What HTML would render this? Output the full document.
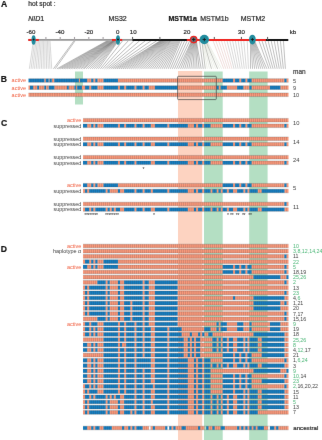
<!DOCTYPE html>
<html lang="en"><head><meta charset="utf-8"><title>Haplotype figure</title>
<style>
html,body{margin:0;padding:0;background:#fff;}
body{width:322px;height:440px;overflow:hidden;font-family:"Liberation Sans",sans-serif;}
svg{display:block;}
</style></head><body>
<svg width="322" height="440" viewBox="0 0 322 440" font-family="'Liberation Sans', sans-serif">
<defs><filter id="bl" color-interpolation-filters="sRGB" x="0" y="0" width="322" height="440" filterUnits="userSpaceOnUse"><feConvolveMatrix order="3" kernelMatrix="0 1 0 1 18 1 0 1 0" edgeMode="duplicate" preserveAlpha="true"/></filter></defs>
<g filter="url(#bl)">
<rect width="322" height="440" fill="#fff"/>
<style>text{stroke-width:.2}.tg{fill:#48b574}.tk{fill:#404040}.o{fill:#f9987a}.b{fill:#157dc0}.s{stroke:#3c3c40;stroke-opacity:0.3;stroke-width:3.7;fill:none}.e{stroke:#3c3c40;stroke-opacity:0.26;stroke-width:0.8;fill:none}</style>
<rect x="75" y="71.5" width="8" height="33" fill="#b4dfc3"/>
<rect x="178" y="71" width="24.2" height="369" fill="#fdd3c1"/>
<rect x="204" y="71.5" width="18.7" height="368.5" fill="#b4dfc3"/>
<rect x="249.2" y="71.5" width="18.4" height="368.5" fill="#b4dfc3"/>
<text x="0.9" y="7" font-size="8.6" fill="#111" stroke="#111" font-weight="bold" stroke-width=".55">A</text>
<text x="28.2" y="5.9" font-size="6.7" fill="#2a2a2a" stroke="#2a2a2a">hot spot :</text>
<text x="28.3" y="20.5" font-size="7.0" fill="#2a2a2a" stroke="#2a2a2a"><tspan font-style="italic">NID</tspan>1</text>
<text x="108.4" y="20.5" font-size="7.0" fill="#2a2a2a" stroke="#2a2a2a">MS32</text>
<text x="168.4" y="20.5" font-size="7.0" fill="#111" stroke="#111" font-weight="bold" stroke-width=".3">MSTM1a</text>
<text x="200.2" y="20.5" font-size="7.0" fill="#2a2a2a" stroke="#2a2a2a">MSTM1b</text>
<text x="240.7" y="20.5" font-size="7.0" fill="#2a2a2a" stroke="#2a2a2a">MSTM2</text>
<text x="31" y="34.3" font-size="6.1" fill="#2a2a2a" stroke="#2a2a2a" text-anchor="middle">-60</text>
<text x="60" y="34.3" font-size="6.1" fill="#2a2a2a" stroke="#2a2a2a" text-anchor="middle">-40</text>
<text x="88.8" y="34.3" font-size="6.1" fill="#2a2a2a" stroke="#2a2a2a" text-anchor="middle">-20</text>
<text x="117.6" y="34.3" font-size="6.1" fill="#2a2a2a" stroke="#2a2a2a" text-anchor="middle">0</text>
<text x="133.2" y="34.3" font-size="6.1" fill="#2a2a2a" stroke="#2a2a2a" text-anchor="middle">10</text>
<text x="187" y="34.3" font-size="6.1" fill="#2a2a2a" stroke="#2a2a2a" text-anchor="middle">20</text>
<text x="241.4" y="34.3" font-size="6.1" fill="#2a2a2a" stroke="#2a2a2a" text-anchor="middle">30</text>
<text x="289.8" y="34.3" font-size="6.1" fill="#2a2a2a" stroke="#2a2a2a">kb</text>
<path d="M33.44 40.8L29.36 68.8M34.71 40.8L31.08 68.8M35.98 40.8L32.8 68.8M37.26 40.8L34.52 68.8M38.53 40.8L36.24 68.8M39.8 40.8L37.96 68.8M41.08 40.8L39.68 68.8M42.35 40.8L41.4 68.8M43.63 40.8L43.12 68.8M44.9 40.8L44.84 68.8M46.17 40.8L46.56 68.8M47.45 40.8L48.28 68.8M48.72 40.8L50 68.8M49.99 40.8L51.72 68.8" stroke="#888" stroke-opacity="0.5" stroke-width="0.65" fill="none"/>
<path d="M73.91 40.8L53.44 68.8M75.09 40.8L55.16 68.8M107.13 40.8L56.88 68.8M107.9 40.8L58.6 68.8M108.67 40.8L60.32 68.8M109.44 40.8L62.04 68.8M110.21 40.8L63.76 68.8M110.98 40.8L65.48 68.8M111.75 40.8L67.2 68.8M112.52 40.8L68.92 68.8M113.09 40.8L70.64 68.8M113.35 40.8L72.36 68.8M113.6 40.8L74.08 68.8M113.86 40.8L75.8 68.8M114.11 40.8L77.52 68.8M114.37 40.8L79.24 68.8M114.62 40.8L80.96 68.8M114.88 40.8L82.68 68.8M115.22 40.8L84.03 68.8M115.67 40.8L86.08 68.8M116.12 40.8L88.14 68.8M116.57 40.8L90.19 68.8M117.02 40.8L92.25 68.8M117.47 40.8L94.3 68.8M117.92 40.8L96.36 68.8M118.37 40.8L98.41 68.8" stroke="#777" stroke-opacity="0.75" stroke-width="0.65" fill="none"/>
<path d="M122.56 40.8L100.47 68.8M128.25 40.8L102.52 68.8M133.93 40.8L104.58 68.8M139.62 40.8L106.63 68.8M145.3 40.8L108.69 68.8M150.99 40.8L110.74 68.8M156.67 40.8L112.8 68.8M160.27 40.8L114.85 68.8M160.93 40.8L116.91 68.8M161.59 40.8L118.96 68.8M162.24 40.8L121.02 68.8M162.9 40.8L123.07 68.8M163.55 40.8L125.13 68.8M164.21 40.8L127.18 68.8M164.87 40.8L129.24 68.8M165.52 40.8L131.29 68.8M166.18 40.8L133.35 68.8M166.84 40.8L135.4 68.8M167.49 40.8L137.46 68.8M168.15 40.8L139.51 68.8M168.81 40.8L141.57 68.8M169.46 40.8L143.62 68.8M170.12 40.8L145.68 68.8M170.78 40.8L147.73 68.8M171.43 40.8L149.79 68.8M172.37 40.8L151.84 68.8M173.35 40.8L153.9 68.8M174.32 40.8L155.95 68.8M175.29 40.8L158.01 68.8M176.27 40.8L160.06 68.8M177.24 40.8L162.12 68.8M178.21 40.8L164.17 68.8M179.19 40.8L166.23 68.8M180.16 40.8L168.28 68.8M182.13 40.8L170.34 68.8M184.65 40.8L172.39 68.8M187.16 40.8L174.45 68.8M189.67 40.8L176.5 68.8M191.62 40.8L178.56 68.8M192.04 40.8L180.61 68.8M192.47 40.8L182.67 68.8M192.9 40.8L184.72 68.8M193.33 40.8L186.78 68.8M193.76 40.8L188.83 68.8M194.18 40.8L190.89 68.8M194.61 40.8L192.94 68.8M195.04 40.8L195 68.8M195.47 40.8L197.05 68.8M195.9 40.8L199.11 68.8M196.33 40.8L201.16 68.8M199.54 40.8L203.22 68.8" stroke="#6e6e6e" stroke-opacity="0.72" stroke-width="0.65" fill="none"/>
<path d="M201.89 40.8L205.27 68.8M203.77 40.8L211.44 68.8M205.66 40.8L217.6 68.8" stroke="#808478" stroke-opacity="0.75" stroke-width="0.65" fill="none"/>
<path d="M202.52 40.8L207.33 68.8M203.14 40.8L209.38 68.8M204.4 40.8L213.49 68.8M205.03 40.8L215.55 68.8M206.28 40.8L219.66 68.8M206.91 40.8L221.71 68.8" stroke="#a9b08c" stroke-opacity="0.3" stroke-width="0.65" fill="none"/>
<path d="M213.04 40.8L223.77 68.8M215.84 40.8L225.82 68.8M218.63 40.8L227.88 68.8M221.43 40.8L229.93 68.8M224.22 40.8L231.99 68.8" stroke="#d09a94" stroke-opacity="0.5" stroke-width="0.65" fill="none"/>
<path d="M227.02 40.8L234.04 68.8M229.81 40.8L236.1 68.8M232.61 40.8L238.15 68.8M235.4 40.8L240.21 68.8M238.2 40.8L242.26 68.8M240.99 40.8L244.32 68.8M243.79 40.8L246.37 68.8M247.23 40.8L248.43 68.8" stroke="#8a8a8a" stroke-opacity="0.5" stroke-width="0.65" fill="none"/>
<path d="M250.54 40.8L250.48 68.8M251.04 40.8L252.54 68.8M251.54 40.8L254.59 68.8M252.04 40.8L256.65 68.8M252.54 40.8L258.7 68.8M253.04 40.8L260.76 68.8M253.54 40.8L262.81 68.8M254.04 40.8L264.87 68.8M254.54 40.8L266.92 68.8M258.91 40.8L268.98 68.8M262.02 40.8L271.03 68.8M265.08 40.8L273.09 68.8M268.14 40.8L275.14 68.8M271.19 40.8L277.2 68.8M274.25 40.8L279.25 68.8M277.3 40.8L281.31 68.8M280.36 40.8L283.36 68.8M283.42 40.8L285.42 68.8" stroke="#7c7c7c" stroke-opacity="0.75" stroke-width="0.65" fill="none"/>
<line x1="28.3" y1="39.95" x2="132.3" y2="39.95" stroke="#979797" stroke-width="1.7"/>
<line x1="132.3" y1="39.95" x2="288.3" y2="39.95" stroke="#141414" stroke-width="2.0"/>
<line x1="45.9" y1="36.95" x2="45.9" y2="39.95" stroke="#a5a0a5" stroke-width="1.1"/>
<line x1="60.2" y1="36.95" x2="60.2" y2="39.95" stroke="#a5a0a5" stroke-width="1.1"/>
<line x1="74.5" y1="36.95" x2="74.5" y2="39.95" stroke="#a5a0a5" stroke-width="1.1"/>
<line x1="88.8" y1="36.95" x2="88.8" y2="39.95" stroke="#a5a0a5" stroke-width="1.1"/>
<line x1="103.1" y1="36.95" x2="103.1" y2="39.95" stroke="#a5a0a5" stroke-width="1.1"/>
<line x1="132.6" y1="36.95" x2="132.6" y2="39.95" stroke="#555" stroke-width="1.0"/>
<line x1="159.9" y1="36.95" x2="159.9" y2="39.95" stroke="#555" stroke-width="1.0"/>
<line x1="214.3" y1="36.95" x2="214.3" y2="39.95" stroke="#555" stroke-width="1.0"/>
<line x1="241.4" y1="36.95" x2="241.4" y2="39.95" stroke="#555" stroke-width="1.0"/>
<line x1="267.6" y1="36.95" x2="267.6" y2="39.95" stroke="#555" stroke-width="1.0"/>
<line x1="28.3" y1="39.95" x2="38.8" y2="39.95" stroke="#ee2420" stroke-width="2.0"/>
<line x1="111.9" y1="39.95" x2="122.2" y2="39.95" stroke="#ee2420" stroke-width="2.0"/>
<line x1="186.8" y1="39.95" x2="265.9" y2="39.95" stroke="#ee2420" stroke-width="2.0"/>
<ellipse cx="33.6" cy="39.95" rx="2.1" ry="4.7" fill="#218c9e"/>
<ellipse cx="118.0" cy="39.95" rx="2.1" ry="4.7" fill="#218c9e"/>
<circle cx="193.7" cy="39.550000000000004" r="3.2" fill="#6c6c74" stroke="#ee2420" stroke-width="1.3"/>
<circle cx="204.3" cy="39.550000000000004" r="4.7" fill="#218c9e"/>
<ellipse cx="252.4" cy="39.550000000000004" rx="3.35" ry="4.85" fill="#218c9e"/>
<path d="M32.6 39.550000000000004h2.0M33.6 38.550000000000004v2.0" stroke="#1a1a1a" stroke-width="0.9" fill="none"/>
<path d="M117.0 39.550000000000004h2.0M118.0 38.550000000000004v2.0" stroke="#1a1a1a" stroke-width="0.9" fill="none"/>
<path d="M192.0 39.550000000000004h3.4M193.7 37.85v3.4" stroke="#1a1a1a" stroke-width="0.9" fill="none"/>
<path d="M202.60000000000002 39.550000000000004h3.4M204.3 37.85v3.4" stroke="#1a1a1a" stroke-width="0.9" fill="none"/>
<path d="M250.8 39.550000000000004h3.2M252.4 37.95v3.2" stroke="#1a1a1a" stroke-width="0.9" fill="none"/>
<text x="0.8" y="82.1" font-size="8.6" fill="#111" stroke="#111" font-weight="bold" stroke-width=".55">B</text>
<text x="11.6" y="82.4" font-size="5.8" fill="#f05a3a" textLength="14.4" lengthAdjust="spacingAndGlyphs">active</text>
<text x="11.6" y="89.5" font-size="5.8" fill="#f05a3a" textLength="14.4" lengthAdjust="spacingAndGlyphs">active</text>
<text x="11.6" y="96.65" font-size="5.8" fill="#f05a3a" textLength="14.4" lengthAdjust="spacingAndGlyphs">active</text>
<path class="o" d="M44.3 78.65h1.6v3.7h-1.6zM48.7 78.65h0.9v3.7h-0.9zM51.8 78.65h2.5v3.7h-2.5zM78.8 78.65h1.2v3.7h-1.2zM87.11 78.65h4.11v3.7h-4.11zM93.28 78.65h2.05v3.7h-2.05zM97.39 78.65h6.16v3.7h-6.16zM117.94 78.65h104.81v3.7h-104.81zM233.02 78.65h2.06v3.7h-2.06zM239.18 78.65h2.06v3.7h-2.06zM245.34 78.65h2.06v3.7h-2.06zM251.51 78.65h32.88v3.7h-32.88zM286.45 78.65h2.05v3.7h-2.05z"/>
<path class="b" d="M28.5 78.65h15.8v3.7h-15.8zM45.9 78.65h2.8v3.7h-2.8zM49.6 78.65h2.2v3.7h-2.2zM54.3 78.65h24.5v3.7h-24.5zM80 78.65h7.11v3.7h-7.11zM91.22 78.65h2.06v3.7h-2.06zM95.33 78.65h2.06v3.7h-2.06zM103.55 78.65h14.39v3.7h-14.39zM222.74 78.65h10.28v3.7h-10.28zM235.07 78.65h4.11v3.7h-4.11zM241.24 78.65h4.11v3.7h-4.11zM247.4 78.65h4.11v3.7h-4.11zM284.39 78.65h2.06v3.7h-2.06z"/>
<path class="s" d="M29.95 80.5H82.6" stroke-dasharray="0.55 1.170"/>
<path class="s" d="M84.78 80.5H288.1" stroke-dasharray="0.55 1.505"/>
<path class="e" d="M28.5 78.65H288.5M28.5 82.35H288.5"/>
<path class="o" d="M28.5 85.75h1.5v3.7h-1.5zM33.1 85.75h4.1v3.7h-4.1zM39 85.75h5.3v3.7h-5.3zM46.1 85.75h2.6v3.7h-2.6zM54.3 85.75h12.7v3.7h-12.7zM68.8 85.75h5.6v3.7h-5.6zM75.9 85.75h1.3v3.7h-1.3zM81.9 85.75h3.16v3.7h-3.16zM89.17 85.75h2.05v3.7h-2.05zM97.39 85.75h6.16v3.7h-6.16zM117.94 85.75h2.06v3.7h-2.06zM124.1 85.75h2.06v3.7h-2.06zM134.38 85.75h2.06v3.7h-2.06zM142.59 85.75h2.06v3.7h-2.06zM148.76 85.75h6.17v3.7h-6.17zM177.53 85.75h39.05v3.7h-39.05zM218.63 85.75h2.05v3.7h-2.05zM226.85 85.75h10.27v3.7h-10.27zM243.29 85.75h6.16v3.7h-6.16zM251.51 85.75h18.49v3.7h-18.49zM280.28 85.75h8.22v3.7h-8.22z"/>
<path class="b" d="M30 85.75h3.1v3.7h-3.1zM37.2 85.75h1.8v3.7h-1.8zM44.3 85.75h1.8v3.7h-1.8zM48.7 85.75h5.6v3.7h-5.6zM67 85.75h1.8v3.7h-1.8zM74.4 85.75h1.5v3.7h-1.5zM77.2 85.75h4.7v3.7h-4.7zM85.06 85.75h4.11v3.7h-4.11zM91.22 85.75h6.17v3.7h-6.17zM103.55 85.75h14.39v3.7h-14.39zM119.99 85.75h4.11v3.7h-4.11zM126.16 85.75h8.22v3.7h-8.22zM136.43 85.75h6.16v3.7h-6.16zM144.65 85.75h4.11v3.7h-4.11zM154.93 85.75h22.6v3.7h-22.6zM216.58 85.75h2.06v3.7h-2.06zM220.69 85.75h6.17v3.7h-6.17zM237.12 85.75h6.17v3.7h-6.17zM249.46 85.75h2.06v3.7h-2.06zM270 85.75h10.28v3.7h-10.28z"/>
<path class="s" d="M29.95 87.6H82.6" stroke-dasharray="0.55 1.170"/>
<path class="s" d="M84.78 87.6H288.1" stroke-dasharray="0.55 1.505"/>
<path class="e" d="M28.5 85.75H288.5M28.5 89.45H288.5"/>
<path class="o" d="M28.5 92.9h260v3.7h-260z"/>
<path class="s" d="M29.95 94.75H82.6" stroke-dasharray="0.55 1.170"/>
<path class="s" d="M84.78 94.75H288.1" stroke-dasharray="0.55 1.505"/>
<path class="e" d="M28.5 92.9H288.5M28.5 96.6H288.5"/>
<text x="293" y="74.2" font-size="6.5" fill="#404040" stroke="#404040">man</text>
<text x="293" y="82.7" font-size="5.6" fill="#404040">5</text>
<text x="293" y="89.8" font-size="5.6" fill="#404040">9</text>
<text x="293" y="96.95" font-size="5.6" fill="#404040">10</text>
<rect x="177.6" y="76.3" width="38.7" height="23.3" rx="0.8" fill="none" stroke="#444" stroke-width="0.7"/>
<text x="0.9" y="126.3" font-size="8.6" fill="#111" stroke="#111" font-weight="bold" stroke-width=".55">C</text>
<path class="o" d="M83 118.4h205.5v3.7h-205.5z"/>
<path class="s" d="M84.78 120.25H288.1" stroke-dasharray="0.55 1.505"/>
<path class="e" d="M83 118.4H288.5M83 122.1H288.5"/>
<text x="81.3" y="122.15" font-size="5.8" fill="#f05a3a" text-anchor="end" textLength="14.4" lengthAdjust="spacingAndGlyphs">active</text>
<path class="o" d="M87.11 123.9h4.11v3.7h-4.11zM93.28 123.9h2.05v3.7h-2.05zM97.39 123.9h6.16v3.7h-6.16zM117.94 123.9h2.06v3.7h-2.06zM124.1 123.9h2.06v3.7h-2.06zM134.38 123.9h2.06v3.7h-2.06zM142.59 123.9h2.06v3.7h-2.06zM150.81 123.9h4.11v3.7h-4.11zM167.25 123.9h2.06v3.7h-2.06zM187.81 123.9h6.17v3.7h-6.17zM196.03 123.9h2.06v3.7h-2.06zM202.19 123.9h2.06v3.7h-2.06zM210.41 123.9h12.33v3.7h-12.33zM233.02 123.9h2.06v3.7h-2.06zM239.18 123.9h2.06v3.7h-2.06zM245.34 123.9h2.06v3.7h-2.06zM251.51 123.9h32.88v3.7h-32.88zM286.45 123.9h2.05v3.7h-2.05z"/>
<path class="b" d="M83 123.9h4.11v3.7h-4.11zM91.22 123.9h2.06v3.7h-2.06zM95.33 123.9h2.06v3.7h-2.06zM103.55 123.9h14.39v3.7h-14.39zM119.99 123.9h4.11v3.7h-4.11zM126.16 123.9h8.22v3.7h-8.22zM136.43 123.9h6.16v3.7h-6.16zM144.65 123.9h6.16v3.7h-6.16zM154.93 123.9h12.33v3.7h-12.33zM169.31 123.9h18.5v3.7h-18.5zM193.97 123.9h2.05v3.7h-2.05zM198.08 123.9h4.11v3.7h-4.11zM204.25 123.9h6.17v3.7h-6.17zM222.74 123.9h10.28v3.7h-10.28zM235.07 123.9h4.11v3.7h-4.11zM241.24 123.9h4.11v3.7h-4.11zM247.4 123.9h4.11v3.7h-4.11zM284.39 123.9h2.06v3.7h-2.06z"/>
<path class="s" d="M84.78 125.75H288.1" stroke-dasharray="0.55 1.505"/>
<path class="e" d="M83 123.9H288.5M83 127.6H288.5"/>
<text x="81.3" y="127.65" font-size="5.8" fill="#404040" text-anchor="end" textLength="27.8" lengthAdjust="spacingAndGlyphs">suppressed</text>
<path class="o" d="M83 136.9h205.5v3.7h-205.5z"/>
<path class="s" d="M84.78 138.75H288.1" stroke-dasharray="0.55 1.505"/>
<path class="e" d="M83 136.9H288.5M83 140.6H288.5"/>
<text x="81.3" y="140.65" font-size="5.8" fill="#404040" text-anchor="end" textLength="27.8" lengthAdjust="spacingAndGlyphs">suppressed</text>
<path class="o" d="M87.11 142.4h4.11v3.7h-4.11zM93.28 142.4h2.05v3.7h-2.05zM97.39 142.4h6.16v3.7h-6.16zM117.94 142.4h2.06v3.7h-2.06zM124.1 142.4h2.06v3.7h-2.06zM134.38 142.4h2.06v3.7h-2.06zM142.59 142.4h2.06v3.7h-2.06zM150.81 142.4h4.11v3.7h-4.11zM167.25 142.4h2.06v3.7h-2.06zM187.81 142.4h6.17v3.7h-6.17zM196.03 142.4h2.06v3.7h-2.06zM202.19 142.4h2.06v3.7h-2.06zM210.41 142.4h12.33v3.7h-12.33zM233.02 142.4h2.06v3.7h-2.06zM239.18 142.4h2.06v3.7h-2.06zM245.34 142.4h2.06v3.7h-2.06zM251.51 142.4h32.88v3.7h-32.88zM286.45 142.4h2.05v3.7h-2.05z"/>
<path class="b" d="M83 142.4h4.11v3.7h-4.11zM91.22 142.4h2.06v3.7h-2.06zM95.33 142.4h2.06v3.7h-2.06zM103.55 142.4h14.39v3.7h-14.39zM119.99 142.4h4.11v3.7h-4.11zM126.16 142.4h8.22v3.7h-8.22zM136.43 142.4h6.16v3.7h-6.16zM144.65 142.4h6.16v3.7h-6.16zM154.93 142.4h12.33v3.7h-12.33zM169.31 142.4h18.5v3.7h-18.5zM193.97 142.4h2.05v3.7h-2.05zM198.08 142.4h4.11v3.7h-4.11zM204.25 142.4h6.17v3.7h-6.17zM222.74 142.4h10.28v3.7h-10.28zM235.07 142.4h4.11v3.7h-4.11zM241.24 142.4h4.11v3.7h-4.11zM247.4 142.4h4.11v3.7h-4.11zM284.39 142.4h2.06v3.7h-2.06z"/>
<path class="s" d="M84.78 144.25H288.1" stroke-dasharray="0.55 1.505"/>
<path class="e" d="M83 142.4H288.5M83 146.1H288.5"/>
<text x="81.3" y="146.15" font-size="5.8" fill="#404040" text-anchor="end" textLength="27.8" lengthAdjust="spacingAndGlyphs">suppressed</text>
<path class="o" d="M83 155.4h205.5v3.7h-205.5z"/>
<path class="s" d="M84.78 157.25H288.1" stroke-dasharray="0.55 1.505"/>
<path class="e" d="M83 155.4H288.5M83 159.1H288.5"/>
<text x="81.3" y="159.15" font-size="5.8" fill="#404040" text-anchor="end" textLength="27.8" lengthAdjust="spacingAndGlyphs">suppressed</text>
<path class="o" d="M87.11 160.9h4.11v3.7h-4.11zM93.28 160.9h2.05v3.7h-2.05zM97.39 160.9h6.16v3.7h-6.16zM117.94 160.9h2.06v3.7h-2.06zM124.1 160.9h2.06v3.7h-2.06zM134.38 160.9h2.06v3.7h-2.06zM150.81 160.9h4.11v3.7h-4.11zM167.25 160.9h2.06v3.7h-2.06zM187.81 160.9h6.17v3.7h-6.17zM196.03 160.9h2.06v3.7h-2.06zM202.19 160.9h2.06v3.7h-2.06zM210.41 160.9h12.33v3.7h-12.33zM233.02 160.9h2.06v3.7h-2.06zM239.18 160.9h2.06v3.7h-2.06zM245.34 160.9h2.06v3.7h-2.06zM251.51 160.9h32.88v3.7h-32.88zM286.45 160.9h2.05v3.7h-2.05z"/>
<path class="b" d="M83 160.9h4.11v3.7h-4.11zM91.22 160.9h2.06v3.7h-2.06zM95.33 160.9h2.06v3.7h-2.06zM103.55 160.9h14.39v3.7h-14.39zM119.99 160.9h4.11v3.7h-4.11zM126.16 160.9h8.22v3.7h-8.22zM136.43 160.9h14.38v3.7h-14.38zM154.93 160.9h12.33v3.7h-12.33zM169.31 160.9h18.5v3.7h-18.5zM193.97 160.9h2.05v3.7h-2.05zM198.08 160.9h4.11v3.7h-4.11zM204.25 160.9h6.17v3.7h-6.17zM222.74 160.9h10.28v3.7h-10.28zM235.07 160.9h4.11v3.7h-4.11zM241.24 160.9h4.11v3.7h-4.11zM247.4 160.9h4.11v3.7h-4.11zM284.39 160.9h2.06v3.7h-2.06z"/>
<path class="s" d="M84.78 162.75H288.1" stroke-dasharray="0.55 1.505"/>
<path class="e" d="M83 160.9H288.5M83 164.6H288.5"/>
<text x="81.3" y="164.65" font-size="5.8" fill="#404040" text-anchor="end" textLength="27.8" lengthAdjust="spacingAndGlyphs">suppressed</text>
<path class="o" d="M87.11 183.4h4.11v3.7h-4.11zM93.28 183.4h2.05v3.7h-2.05zM97.39 183.4h6.16v3.7h-6.16zM117.94 183.4h104.81v3.7h-104.81zM233.02 183.4h2.06v3.7h-2.06zM239.18 183.4h2.06v3.7h-2.06zM245.34 183.4h2.06v3.7h-2.06zM251.51 183.4h32.88v3.7h-32.88zM286.45 183.4h2.05v3.7h-2.05z"/>
<path class="b" d="M83 183.4h4.11v3.7h-4.11zM91.22 183.4h2.06v3.7h-2.06zM95.33 183.4h2.06v3.7h-2.06zM103.55 183.4h14.39v3.7h-14.39zM222.74 183.4h10.28v3.7h-10.28zM235.07 183.4h4.11v3.7h-4.11zM241.24 183.4h4.11v3.7h-4.11zM247.4 183.4h4.11v3.7h-4.11zM284.39 183.4h2.06v3.7h-2.06z"/>
<path class="s" d="M84.78 185.25H288.1" stroke-dasharray="0.55 1.505"/>
<path class="e" d="M83 183.4H288.5M83 187.1H288.5"/>
<text x="81.3" y="187.15" font-size="5.8" fill="#f05a3a" text-anchor="end" textLength="14.4" lengthAdjust="spacingAndGlyphs">active</text>
<path class="o" d="M83 189.15h2.06v3.7h-2.06zM87.11 189.15h2.06v3.7h-2.06zM105.61 189.15h2.05v3.7h-2.05zM109.72 189.15h8.22v3.7h-8.22zM119.99 189.15h4.11v3.7h-4.11zM134.38 189.15h2.06v3.7h-2.06zM142.59 189.15h2.06v3.7h-2.06zM150.81 189.15h2.06v3.7h-2.06zM167.25 189.15h2.06v3.7h-2.06zM187.81 189.15h6.17v3.7h-6.17zM196.03 189.15h2.06v3.7h-2.06zM202.19 189.15h2.06v3.7h-2.06zM210.41 189.15h2.05v3.7h-2.05zM216.58 189.15h2.06v3.7h-2.06zM220.69 189.15h2.06v3.7h-2.06zM226.85 189.15h2.05v3.7h-2.05zM233.02 189.15h4.11v3.7h-4.11zM243.29 189.15h2.05v3.7h-2.05zM247.4 189.15h2.06v3.7h-2.06zM257.68 189.15h4.11v3.7h-4.11zM284.39 189.15h4.11v3.7h-4.11z"/>
<path class="b" d="M85.06 189.15h2.05v3.7h-2.05zM89.17 189.15h16.44v3.7h-16.44zM107.66 189.15h2.06v3.7h-2.06zM117.94 189.15h2.06v3.7h-2.06zM124.1 189.15h10.28v3.7h-10.28zM136.43 189.15h6.16v3.7h-6.16zM144.65 189.15h6.16v3.7h-6.16zM152.87 189.15h14.38v3.7h-14.38zM169.31 189.15h18.5v3.7h-18.5zM193.97 189.15h2.05v3.7h-2.05zM198.08 189.15h4.11v3.7h-4.11zM204.25 189.15h6.17v3.7h-6.17zM212.47 189.15h4.11v3.7h-4.11zM218.63 189.15h2.05v3.7h-2.05zM222.74 189.15h4.11v3.7h-4.11zM228.91 189.15h4.11v3.7h-4.11zM237.12 189.15h6.17v3.7h-6.17zM245.34 189.15h2.06v3.7h-2.06zM249.46 189.15h8.22v3.7h-8.22zM261.79 189.15h22.6v3.7h-22.6z"/>
<path class="s" d="M84.78 191H288.1" stroke-dasharray="0.55 1.505"/>
<path class="e" d="M83 189.15H288.5M83 192.85H288.5"/>
<text x="81.3" y="192.9" font-size="5.8" fill="#404040" text-anchor="end" textLength="27.8" lengthAdjust="spacingAndGlyphs">suppressed</text>
<path class="o" d="M83 202.15h201.39v3.7h-201.39zM286.45 202.15h2.05v3.7h-2.05z"/>
<path class="b" d="M284.39 202.15h2.06v3.7h-2.06z"/>
<path class="s" d="M84.78 204H288.1" stroke-dasharray="0.55 1.505"/>
<path class="e" d="M83 202.15H288.5M83 205.85H288.5"/>
<text x="81.3" y="205.9" font-size="5.8" fill="#404040" text-anchor="end" textLength="27.8" lengthAdjust="spacingAndGlyphs">suppressed</text>
<path class="o" d="M83 207.65h2.06v3.7h-2.06zM89.17 207.65h2.05v3.7h-2.05zM93.28 207.65h2.05v3.7h-2.05zM105.61 207.65h2.05v3.7h-2.05zM109.72 207.65h2.06v3.7h-2.06zM113.83 207.65h2.05v3.7h-2.05zM119.99 207.65h4.11v3.7h-4.11zM134.38 207.65h2.06v3.7h-2.06zM142.59 207.65h2.06v3.7h-2.06zM150.81 207.65h4.11v3.7h-4.11zM167.25 207.65h2.06v3.7h-2.06zM187.81 207.65h6.17v3.7h-6.17zM196.03 207.65h2.06v3.7h-2.06zM202.19 207.65h2.06v3.7h-2.06zM210.41 207.65h2.05v3.7h-2.05zM216.58 207.65h2.06v3.7h-2.06zM220.69 207.65h2.06v3.7h-2.06zM226.85 207.65h2.05v3.7h-2.05zM233.02 207.65h4.11v3.7h-4.11zM243.29 207.65h2.05v3.7h-2.05zM247.4 207.65h2.06v3.7h-2.06zM257.68 207.65h4.11v3.7h-4.11zM284.39 207.65h4.11v3.7h-4.11z"/>
<path class="b" d="M85.06 207.65h4.11v3.7h-4.11zM91.22 207.65h2.06v3.7h-2.06zM95.33 207.65h10.28v3.7h-10.28zM107.66 207.65h2.06v3.7h-2.06zM111.77 207.65h2.05v3.7h-2.05zM115.88 207.65h4.11v3.7h-4.11zM124.1 207.65h10.28v3.7h-10.28zM136.43 207.65h6.16v3.7h-6.16zM144.65 207.65h6.16v3.7h-6.16zM154.93 207.65h12.33v3.7h-12.33zM169.31 207.65h18.5v3.7h-18.5zM193.97 207.65h2.05v3.7h-2.05zM198.08 207.65h4.11v3.7h-4.11zM204.25 207.65h6.17v3.7h-6.17zM212.47 207.65h4.11v3.7h-4.11zM218.63 207.65h2.05v3.7h-2.05zM222.74 207.65h4.11v3.7h-4.11zM228.91 207.65h4.11v3.7h-4.11zM237.12 207.65h6.17v3.7h-6.17zM245.34 207.65h2.06v3.7h-2.06zM249.46 207.65h8.22v3.7h-8.22zM261.79 207.65h22.6v3.7h-22.6z"/>
<path class="s" d="M84.78 209.5H288.1" stroke-dasharray="0.55 1.505"/>
<path class="e" d="M83 207.65H288.5M83 211.35H288.5"/>
<text x="81.3" y="211.4" font-size="5.8" fill="#404040" text-anchor="end" textLength="27.8" lengthAdjust="spacingAndGlyphs">suppressed</text>
<text x="293" y="125.2" font-size="5.8" fill="#404040">10</text>
<text x="293" y="143.7" font-size="5.8" fill="#404040">14</text>
<text x="293" y="162.2" font-size="5.8" fill="#404040">24</text>
<text x="293" y="190.3" font-size="5.8" fill="#404040">5</text>
<text x="293" y="209" font-size="5.8" fill="#404040">11</text>
<text x="84.2" y="216.9" font-size="5.2" fill="#333" letter-spacing="-0.32">********</text>
<text x="105" y="216.9" font-size="5.2" fill="#333" letter-spacing="-0.32">********</text>
<text x="153" y="216.9" font-size="5.2" fill="#333" letter-spacing="-0.32">*</text>
<text x="227" y="216.9" font-size="5.2" fill="#333" letter-spacing="-0.32">*</text>
<text x="230" y="216.9" font-size="5.2" fill="#333" letter-spacing="-0.32">**</text>
<text x="235.7" y="216.9" font-size="5.2" fill="#333" letter-spacing="-0.32">**</text>
<text x="241.9" y="216.9" font-size="5.2" fill="#333" letter-spacing="-0.32">**</text>
<text x="248.2" y="216.9" font-size="5.2" fill="#333" letter-spacing="-0.32">**</text>
<text x="142.6" y="170.5" font-size="5.2" fill="#333" letter-spacing="-0.32">*</text>
<text x="0.7" y="252.4" font-size="8.6" fill="#111" stroke="#111" font-weight="bold" stroke-width=".55">D</text>
<path class="o" d="M83 244.15h205.5v3.7h-205.5z"/>
<path class="s" d="M84.78 246H288.1" stroke-dasharray="0.55 1.505"/>
<path class="e" d="M83 244.15H288.5M83 247.85H288.5"/>
<text x="293" y="247.9" font-size="5.3" fill="#404040"><tspan class="tg">10</tspan></text>
<path class="o" d="M83 249.35h205.5v3.7h-205.5z"/>
<path class="s" d="M84.78 251.2H288.1" stroke-dasharray="0.55 1.505"/>
<path class="e" d="M83 249.35H288.5M83 253.05H288.5"/>
<text x="293" y="253.1" font-size="5.3" fill="#404040"><tspan class="tg">3,8,12,14,24</tspan></text>
<path class="o" d="M83 254.55h201.39v3.7h-201.39zM286.45 254.55h2.05v3.7h-2.05z"/>
<path class="b" d="M284.39 254.55h2.06v3.7h-2.06z"/>
<path class="s" d="M84.78 256.4H288.1" stroke-dasharray="0.55 1.505"/>
<path class="e" d="M83 254.55H288.5M83 258.25H288.5"/>
<text x="293" y="258.3" font-size="5.3" fill="#404040"><tspan class="tk">11</tspan></text>
<path class="o" d="M83 259.75h2.06v3.7h-2.06zM89.17 259.75h2.05v3.7h-2.05zM93.28 259.75h2.05v3.7h-2.05zM97.39 259.75h6.16v3.7h-6.16zM117.94 259.75h170.56v3.7h-170.56z"/>
<path class="b" d="M85.06 259.75h4.11v3.7h-4.11zM91.22 259.75h2.06v3.7h-2.06zM95.33 259.75h2.06v3.7h-2.06zM103.55 259.75h14.39v3.7h-14.39z"/>
<path class="s" d="M84.78 261.6H288.1" stroke-dasharray="0.55 1.505"/>
<path class="e" d="M83 259.75H288.5M83 263.45H288.5"/>
<text x="293" y="263.5" font-size="5.3" fill="#404040"><tspan class="tg">22</tspan></text>
<path class="o" d="M87.11 264.95h4.11v3.7h-4.11zM93.28 264.95h2.05v3.7h-2.05zM97.39 264.95h6.16v3.7h-6.16zM117.94 264.95h104.81v3.7h-104.81zM233.02 264.95h2.06v3.7h-2.06zM239.18 264.95h2.06v3.7h-2.06zM245.34 264.95h2.06v3.7h-2.06zM251.51 264.95h32.88v3.7h-32.88zM286.45 264.95h2.05v3.7h-2.05z"/>
<path class="b" d="M83 264.95h4.11v3.7h-4.11zM91.22 264.95h2.06v3.7h-2.06zM95.33 264.95h2.06v3.7h-2.06zM103.55 264.95h14.39v3.7h-14.39zM222.74 264.95h10.28v3.7h-10.28zM235.07 264.95h4.11v3.7h-4.11zM241.24 264.95h4.11v3.7h-4.11zM247.4 264.95h4.11v3.7h-4.11zM284.39 264.95h2.06v3.7h-2.06z"/>
<path class="s" d="M84.78 266.8H288.1" stroke-dasharray="0.55 1.505"/>
<path class="e" d="M83 264.95H288.5M83 268.65H288.5"/>
<text x="293" y="268.7" font-size="5.3" fill="#404040"><tspan class="tg">5</tspan></text>
<path class="o" d="M83 270.15h139.74v3.7h-139.74zM233.02 270.15h2.06v3.7h-2.06zM239.18 270.15h2.06v3.7h-2.06zM245.34 270.15h2.06v3.7h-2.06zM251.51 270.15h32.88v3.7h-32.88zM286.45 270.15h2.05v3.7h-2.05z"/>
<path class="b" d="M222.74 270.15h10.28v3.7h-10.28zM235.07 270.15h4.11v3.7h-4.11zM241.24 270.15h4.11v3.7h-4.11zM247.4 270.15h4.11v3.7h-4.11zM284.39 270.15h2.06v3.7h-2.06z"/>
<path class="s" d="M84.78 272H288.1" stroke-dasharray="0.55 1.505"/>
<path class="e" d="M83 270.15H288.5M83 273.85H288.5"/>
<text x="293" y="273.9" font-size="5.3" fill="#404040"><tspan class="tk">18,19</tspan></text>
<path class="o" d="M83 275.35h170.57v3.7h-170.57zM280.28 275.35h6.17v3.7h-6.17z"/>
<path class="b" d="M253.57 275.35h26.72v3.7h-26.72zM286.45 275.35h2.05v3.7h-2.05z"/>
<path class="s" d="M84.78 277.2H288.1" stroke-dasharray="0.55 1.505"/>
<path class="e" d="M83 275.35H288.5M83 279.05H288.5"/>
<text x="293" y="279.1" font-size="5.3" fill="#404040"><tspan class="tg">25,26</tspan></text>
<path class="o" d="M83 280.55h14.39v3.7h-14.39zM105.61 280.55h2.05v3.7h-2.05zM109.72 280.55h8.22v3.7h-8.22zM119.99 280.55h4.11v3.7h-4.11zM142.59 280.55h2.06v3.7h-2.06zM148.76 280.55h6.17v3.7h-6.17zM177.53 280.55h106.86v3.7h-106.86zM286.45 280.55h2.05v3.7h-2.05z"/>
<path class="b" d="M97.39 280.55h8.22v3.7h-8.22zM107.66 280.55h2.06v3.7h-2.06zM117.94 280.55h2.06v3.7h-2.06zM124.1 280.55h18.5v3.7h-18.5zM144.65 280.55h4.11v3.7h-4.11zM154.93 280.55h22.6v3.7h-22.6zM284.39 280.55h2.06v3.7h-2.06z"/>
<path class="s" d="M84.78 282.4H288.1" stroke-dasharray="0.55 1.505"/>
<path class="e" d="M83 280.55H288.5M83 284.25H288.5"/>
<text x="293" y="284.3" font-size="5.3" fill="#404040"><tspan class="tg">2</tspan></text>
<path class="o" d="M83 285.75h2.06v3.7h-2.06zM87.11 285.75h2.06v3.7h-2.06zM105.61 285.75h2.05v3.7h-2.05zM109.72 285.75h8.22v3.7h-8.22zM119.99 285.75h4.11v3.7h-4.11zM142.59 285.75h2.06v3.7h-2.06zM148.76 285.75h6.17v3.7h-6.17zM177.53 285.75h110.97v3.7h-110.97z"/>
<path class="b" d="M85.06 285.75h2.05v3.7h-2.05zM89.17 285.75h16.44v3.7h-16.44zM107.66 285.75h2.06v3.7h-2.06zM117.94 285.75h2.06v3.7h-2.06zM124.1 285.75h18.5v3.7h-18.5zM144.65 285.75h4.11v3.7h-4.11zM154.93 285.75h22.6v3.7h-22.6z"/>
<path class="s" d="M84.78 287.6H288.1" stroke-dasharray="0.55 1.505"/>
<path class="e" d="M83 285.75H288.5M83 289.45H288.5"/>
<text x="293" y="289.5" font-size="5.3" fill="#404040"><tspan class="tk">13</tspan></text>
<path class="o" d="M83 290.95h2.06v3.7h-2.06zM87.11 290.95h2.06v3.7h-2.06zM105.61 290.95h2.05v3.7h-2.05zM109.72 290.95h8.22v3.7h-8.22zM119.99 290.95h4.11v3.7h-4.11zM142.59 290.95h2.06v3.7h-2.06zM148.76 290.95h6.17v3.7h-6.17zM177.53 290.95h106.86v3.7h-106.86zM286.45 290.95h2.05v3.7h-2.05z"/>
<path class="b" d="M85.06 290.95h2.05v3.7h-2.05zM89.17 290.95h16.44v3.7h-16.44zM107.66 290.95h2.06v3.7h-2.06zM117.94 290.95h2.06v3.7h-2.06zM124.1 290.95h18.5v3.7h-18.5zM144.65 290.95h4.11v3.7h-4.11zM154.93 290.95h22.6v3.7h-22.6zM284.39 290.95h2.06v3.7h-2.06z"/>
<path class="s" d="M84.78 292.8H288.1" stroke-dasharray="0.55 1.505"/>
<path class="e" d="M83 290.95H288.5M83 294.65H288.5"/>
<text x="293" y="294.7" font-size="5.3" fill="#404040"><tspan class="tg">23</tspan></text>
<path class="o" d="M83 296.15h2.06v3.7h-2.06zM87.11 296.15h2.06v3.7h-2.06zM105.61 296.15h2.05v3.7h-2.05zM109.72 296.15h8.22v3.7h-8.22zM119.99 296.15h4.11v3.7h-4.11zM142.59 296.15h2.06v3.7h-2.06zM148.76 296.15h6.17v3.7h-6.17zM177.53 296.15h55.49v3.7h-55.49zM235.07 296.15h18.5v3.7h-18.5zM284.39 296.15h4.11v3.7h-4.11z"/>
<path class="b" d="M85.06 296.15h2.05v3.7h-2.05zM89.17 296.15h16.44v3.7h-16.44zM107.66 296.15h2.06v3.7h-2.06zM117.94 296.15h2.06v3.7h-2.06zM124.1 296.15h18.5v3.7h-18.5zM144.65 296.15h4.11v3.7h-4.11zM154.93 296.15h22.6v3.7h-22.6zM233.02 296.15h2.06v3.7h-2.06zM253.57 296.15h30.82v3.7h-30.82z"/>
<path class="s" d="M84.78 298H288.1" stroke-dasharray="0.55 1.505"/>
<path class="e" d="M83 296.15H288.5M83 299.85H288.5"/>
<text x="293" y="299.9" font-size="5.3" fill="#404040"><tspan class="tk">4,</tspan><tspan class="tg">6</tspan></text>
<path class="o" d="M83 301.35h2.06v3.7h-2.06zM87.11 301.35h2.06v3.7h-2.06zM105.61 301.35h2.05v3.7h-2.05zM109.72 301.35h8.22v3.7h-8.22zM119.99 301.35h4.11v3.7h-4.11zM130.26 301.35h2.06v3.7h-2.06zM142.59 301.35h2.06v3.7h-2.06zM148.76 301.35h6.17v3.7h-6.17zM177.53 301.35h76.04v3.7h-76.04zM280.28 301.35h4.11v3.7h-4.11zM286.45 301.35h2.05v3.7h-2.05z"/>
<path class="b" d="M85.06 301.35h2.05v3.7h-2.05zM89.17 301.35h16.44v3.7h-16.44zM107.66 301.35h2.06v3.7h-2.06zM117.94 301.35h2.06v3.7h-2.06zM124.1 301.35h6.16v3.7h-6.16zM132.32 301.35h10.28v3.7h-10.28zM144.65 301.35h4.11v3.7h-4.11zM154.93 301.35h22.6v3.7h-22.6zM253.57 301.35h26.72v3.7h-26.72zM284.39 301.35h2.06v3.7h-2.06z"/>
<path class="s" d="M84.78 303.2H288.1" stroke-dasharray="0.55 1.505"/>
<path class="e" d="M83 301.35H288.5M83 305.05H288.5"/>
<text x="293" y="305.1" font-size="5.3" fill="#404040"><tspan class="tk">1,21</tspan></text>
<path class="o" d="M83 306.55h2.06v3.7h-2.06zM87.11 306.55h2.06v3.7h-2.06zM105.61 306.55h2.05v3.7h-2.05zM109.72 306.55h8.22v3.7h-8.22zM119.99 306.55h4.11v3.7h-4.11zM130.26 306.55h2.06v3.7h-2.06zM142.59 306.55h2.06v3.7h-2.06zM148.76 306.55h6.17v3.7h-6.17zM177.53 306.55h76.04v3.7h-76.04zM280.28 306.55h8.22v3.7h-8.22z"/>
<path class="b" d="M85.06 306.55h2.05v3.7h-2.05zM89.17 306.55h16.44v3.7h-16.44zM107.66 306.55h2.06v3.7h-2.06zM117.94 306.55h2.06v3.7h-2.06zM124.1 306.55h6.16v3.7h-6.16zM132.32 306.55h10.28v3.7h-10.28zM144.65 306.55h4.11v3.7h-4.11zM154.93 306.55h22.6v3.7h-22.6zM253.57 306.55h26.72v3.7h-26.72z"/>
<path class="s" d="M84.78 308.4H288.1" stroke-dasharray="0.55 1.505"/>
<path class="e" d="M83 306.55H288.5M83 310.25H288.5"/>
<text x="293" y="310.3" font-size="5.3" fill="#404040"><tspan class="tk">20</tspan></text>
<path class="o" d="M83 311.75h2.06v3.7h-2.06zM87.11 311.75h2.06v3.7h-2.06zM105.61 311.75h2.05v3.7h-2.05zM109.72 311.75h8.22v3.7h-8.22zM119.99 311.75h4.11v3.7h-4.11zM130.26 311.75h2.06v3.7h-2.06zM142.59 311.75h2.06v3.7h-2.06zM148.76 311.75h6.17v3.7h-6.17zM177.53 311.75h106.86v3.7h-106.86zM286.45 311.75h2.05v3.7h-2.05z"/>
<path class="b" d="M85.06 311.75h2.05v3.7h-2.05zM89.17 311.75h16.44v3.7h-16.44zM107.66 311.75h2.06v3.7h-2.06zM117.94 311.75h2.06v3.7h-2.06zM124.1 311.75h6.16v3.7h-6.16zM132.32 311.75h10.28v3.7h-10.28zM144.65 311.75h4.11v3.7h-4.11zM154.93 311.75h22.6v3.7h-22.6zM284.39 311.75h2.06v3.7h-2.06z"/>
<path class="s" d="M84.78 313.6H288.1" stroke-dasharray="0.55 1.505"/>
<path class="e" d="M83 311.75H288.5M83 315.45H288.5"/>
<text x="293" y="315.5" font-size="5.3" fill="#404040"><tspan class="tk">7,17</tspan></text>
<path class="o" d="M83 316.95h14.39v3.7h-14.39zM105.61 316.95h2.05v3.7h-2.05zM109.72 316.95h8.22v3.7h-8.22zM119.99 316.95h4.11v3.7h-4.11zM130.26 316.95h2.06v3.7h-2.06zM142.59 316.95h2.06v3.7h-2.06zM148.76 316.95h6.17v3.7h-6.17zM177.53 316.95h106.86v3.7h-106.86zM286.45 316.95h2.05v3.7h-2.05z"/>
<path class="b" d="M97.39 316.95h8.22v3.7h-8.22zM107.66 316.95h2.06v3.7h-2.06zM117.94 316.95h2.06v3.7h-2.06zM124.1 316.95h6.16v3.7h-6.16zM132.32 316.95h10.28v3.7h-10.28zM144.65 316.95h4.11v3.7h-4.11zM154.93 316.95h22.6v3.7h-22.6zM284.39 316.95h2.06v3.7h-2.06z"/>
<path class="s" d="M84.78 318.8H288.1" stroke-dasharray="0.55 1.505"/>
<path class="e" d="M83 316.95H288.5M83 320.65H288.5"/>
<text x="293" y="320.7" font-size="5.3" fill="#404040"><tspan class="tk">15,16</tspan></text>
<path class="o" d="M83 322.15h2.06v3.7h-2.06zM89.17 322.15h2.05v3.7h-2.05zM97.39 322.15h6.16v3.7h-6.16zM117.94 322.15h2.06v3.7h-2.06zM124.1 322.15h2.06v3.7h-2.06zM134.38 322.15h2.06v3.7h-2.06zM142.59 322.15h2.06v3.7h-2.06zM148.76 322.15h6.17v3.7h-6.17zM177.53 322.15h39.05v3.7h-39.05zM218.63 322.15h2.05v3.7h-2.05zM226.85 322.15h10.27v3.7h-10.27zM243.29 322.15h6.16v3.7h-6.16zM251.51 322.15h18.49v3.7h-18.49zM280.28 322.15h8.22v3.7h-8.22z"/>
<path class="b" d="M85.06 322.15h4.11v3.7h-4.11zM91.22 322.15h6.17v3.7h-6.17zM103.55 322.15h14.39v3.7h-14.39zM119.99 322.15h4.11v3.7h-4.11zM126.16 322.15h8.22v3.7h-8.22zM136.43 322.15h6.16v3.7h-6.16zM144.65 322.15h4.11v3.7h-4.11zM154.93 322.15h22.6v3.7h-22.6zM216.58 322.15h2.06v3.7h-2.06zM220.69 322.15h6.17v3.7h-6.17zM237.12 322.15h6.17v3.7h-6.17zM249.46 322.15h2.06v3.7h-2.06zM270 322.15h10.28v3.7h-10.28z"/>
<path class="s" d="M84.78 324H288.1" stroke-dasharray="0.55 1.505"/>
<path class="e" d="M83 322.15H288.5M83 325.85H288.5"/>
<text x="293" y="325.9" font-size="5.3" fill="#404040"><tspan class="tg">9</tspan></text>
<path class="o" d="M83 327.35h2.06v3.7h-2.06zM89.17 327.35h2.05v3.7h-2.05zM93.28 327.35h2.05v3.7h-2.05zM97.39 327.35h6.16v3.7h-6.16zM117.94 327.35h2.06v3.7h-2.06zM124.1 327.35h2.06v3.7h-2.06zM134.38 327.35h2.06v3.7h-2.06zM142.59 327.35h2.06v3.7h-2.06zM150.81 327.35h4.11v3.7h-4.11zM167.25 327.35h2.06v3.7h-2.06zM181.64 327.35h22.6v3.7h-22.6zM210.41 327.35h6.16v3.7h-6.16zM218.63 327.35h2.05v3.7h-2.05zM226.85 327.35h10.27v3.7h-10.27zM243.29 327.35h6.16v3.7h-6.16zM251.51 327.35h18.49v3.7h-18.49zM280.28 327.35h8.22v3.7h-8.22z"/>
<path class="b" d="M85.06 327.35h4.11v3.7h-4.11zM91.22 327.35h2.06v3.7h-2.06zM95.33 327.35h2.06v3.7h-2.06zM103.55 327.35h14.39v3.7h-14.39zM119.99 327.35h4.11v3.7h-4.11zM126.16 327.35h8.22v3.7h-8.22zM136.43 327.35h6.16v3.7h-6.16zM144.65 327.35h6.16v3.7h-6.16zM154.93 327.35h12.33v3.7h-12.33zM169.31 327.35h12.33v3.7h-12.33zM204.25 327.35h6.17v3.7h-6.17zM216.58 327.35h2.06v3.7h-2.06zM220.69 327.35h6.17v3.7h-6.17zM237.12 327.35h6.17v3.7h-6.17zM249.46 327.35h2.06v3.7h-2.06zM270 327.35h10.28v3.7h-10.28z"/>
<path class="s" d="M84.78 329.2H288.1" stroke-dasharray="0.55 1.505"/>
<path class="e" d="M83 327.35H288.5M83 331.05H288.5"/>
<text x="293" y="331.1" font-size="5.3" fill="#404040"><tspan class="tk">19</tspan></text>
<path class="o" d="M83 332.55h2.06v3.7h-2.06zM89.17 332.55h2.05v3.7h-2.05zM93.28 332.55h2.05v3.7h-2.05zM97.39 332.55h6.16v3.7h-6.16zM117.94 332.55h2.06v3.7h-2.06zM124.1 332.55h2.06v3.7h-2.06zM134.38 332.55h2.06v3.7h-2.06zM142.59 332.55h2.06v3.7h-2.06zM150.81 332.55h4.11v3.7h-4.11zM167.25 332.55h2.06v3.7h-2.06zM181.64 332.55h8.22v3.7h-8.22zM191.92 332.55h6.16v3.7h-6.16zM200.13 332.55h2.06v3.7h-2.06zM204.25 332.55h4.11v3.7h-4.11zM212.47 332.55h41.1v3.7h-41.1zM284.39 332.55h4.11v3.7h-4.11z"/>
<path class="b" d="M85.06 332.55h4.11v3.7h-4.11zM91.22 332.55h2.06v3.7h-2.06zM95.33 332.55h2.06v3.7h-2.06zM103.55 332.55h14.39v3.7h-14.39zM119.99 332.55h4.11v3.7h-4.11zM126.16 332.55h8.22v3.7h-8.22zM136.43 332.55h6.16v3.7h-6.16zM144.65 332.55h6.16v3.7h-6.16zM154.93 332.55h12.33v3.7h-12.33zM169.31 332.55h12.33v3.7h-12.33zM189.86 332.55h2.06v3.7h-2.06zM198.08 332.55h2.05v3.7h-2.05zM202.19 332.55h2.06v3.7h-2.06zM208.36 332.55h4.11v3.7h-4.11zM253.57 332.55h30.82v3.7h-30.82z"/>
<path class="s" d="M84.78 334.4H288.1" stroke-dasharray="0.55 1.505"/>
<path class="e" d="M83 332.55H288.5M83 336.25H288.5"/>
<text x="293" y="336.3" font-size="5.3" fill="#404040"><tspan class="tk">18</tspan></text>
<path class="o" d="M83 337.75h20.55v3.7h-20.55zM117.94 337.75h2.06v3.7h-2.06zM124.1 337.75h2.06v3.7h-2.06zM134.38 337.75h2.06v3.7h-2.06zM142.59 337.75h2.06v3.7h-2.06zM150.81 337.75h4.11v3.7h-4.11zM167.25 337.75h2.06v3.7h-2.06zM183.69 337.75h4.11v3.7h-4.11zM189.86 337.75h2.06v3.7h-2.06zM193.97 337.75h2.05v3.7h-2.05zM200.13 337.75h12.33v3.7h-12.33zM216.58 337.75h2.06v3.7h-2.06zM220.69 337.75h2.06v3.7h-2.06zM226.85 337.75h2.05v3.7h-2.05zM233.02 337.75h4.11v3.7h-4.11zM243.29 337.75h2.05v3.7h-2.05zM247.4 337.75h2.06v3.7h-2.06zM257.68 337.75h4.11v3.7h-4.11zM284.39 337.75h4.11v3.7h-4.11z"/>
<path class="b" d="M103.55 337.75h14.39v3.7h-14.39zM119.99 337.75h4.11v3.7h-4.11zM126.16 337.75h8.22v3.7h-8.22zM136.43 337.75h6.16v3.7h-6.16zM144.65 337.75h6.16v3.7h-6.16zM154.93 337.75h12.33v3.7h-12.33zM169.31 337.75h14.38v3.7h-14.38zM187.81 337.75h2.06v3.7h-2.06zM191.92 337.75h2.06v3.7h-2.06zM196.03 337.75h4.11v3.7h-4.11zM212.47 337.75h4.11v3.7h-4.11zM218.63 337.75h2.05v3.7h-2.05zM222.74 337.75h4.11v3.7h-4.11zM228.91 337.75h4.11v3.7h-4.11zM237.12 337.75h6.17v3.7h-6.17zM245.34 337.75h2.06v3.7h-2.06zM249.46 337.75h8.22v3.7h-8.22zM261.79 337.75h22.6v3.7h-22.6z"/>
<path class="s" d="M84.78 339.6H288.1" stroke-dasharray="0.55 1.505"/>
<path class="e" d="M83 337.75H288.5M83 341.45H288.5"/>
<text x="293" y="341.5" font-size="5.3" fill="#404040"><tspan class="tg">25,26</tspan></text>
<path class="o" d="M87.11 342.95h4.11v3.7h-4.11zM93.28 342.95h2.05v3.7h-2.05zM97.39 342.95h6.16v3.7h-6.16zM117.94 342.95h2.06v3.7h-2.06zM122.05 342.95h4.11v3.7h-4.11zM134.38 342.95h2.06v3.7h-2.06zM142.59 342.95h2.06v3.7h-2.06zM150.81 342.95h4.11v3.7h-4.11zM167.25 342.95h2.06v3.7h-2.06zM183.69 342.95h4.11v3.7h-4.11zM189.86 342.95h2.06v3.7h-2.06zM193.97 342.95h2.05v3.7h-2.05zM200.13 342.95h12.33v3.7h-12.33zM216.58 342.95h2.06v3.7h-2.06zM220.69 342.95h2.06v3.7h-2.06zM226.85 342.95h2.05v3.7h-2.05zM233.02 342.95h4.11v3.7h-4.11zM243.29 342.95h2.05v3.7h-2.05zM247.4 342.95h2.06v3.7h-2.06zM257.68 342.95h4.11v3.7h-4.11zM284.39 342.95h4.11v3.7h-4.11z"/>
<path class="b" d="M83 342.95h4.11v3.7h-4.11zM91.22 342.95h2.06v3.7h-2.06zM95.33 342.95h2.06v3.7h-2.06zM103.55 342.95h14.39v3.7h-14.39zM119.99 342.95h2.05v3.7h-2.05zM126.16 342.95h8.22v3.7h-8.22zM136.43 342.95h6.16v3.7h-6.16zM144.65 342.95h6.16v3.7h-6.16zM154.93 342.95h12.33v3.7h-12.33zM169.31 342.95h14.38v3.7h-14.38zM187.81 342.95h2.06v3.7h-2.06zM191.92 342.95h2.06v3.7h-2.06zM196.03 342.95h4.11v3.7h-4.11zM212.47 342.95h4.11v3.7h-4.11zM218.63 342.95h2.05v3.7h-2.05zM222.74 342.95h4.11v3.7h-4.11zM228.91 342.95h4.11v3.7h-4.11zM237.12 342.95h6.17v3.7h-6.17zM245.34 342.95h2.06v3.7h-2.06zM249.46 342.95h8.22v3.7h-8.22zM261.79 342.95h22.6v3.7h-22.6z"/>
<path class="s" d="M84.78 344.8H288.1" stroke-dasharray="0.55 1.505"/>
<path class="e" d="M83 342.95H288.5M83 346.65H288.5"/>
<text x="293" y="346.7" font-size="5.3" fill="#404040"><tspan class="tg">8</tspan></text>
<path class="o" d="M87.11 348.15h4.11v3.7h-4.11zM93.28 348.15h2.05v3.7h-2.05zM97.39 348.15h6.16v3.7h-6.16zM117.94 348.15h2.06v3.7h-2.06zM124.1 348.15h2.06v3.7h-2.06zM134.38 348.15h2.06v3.7h-2.06zM142.59 348.15h2.06v3.7h-2.06zM150.81 348.15h4.11v3.7h-4.11zM167.25 348.15h2.06v3.7h-2.06zM183.69 348.15h4.11v3.7h-4.11zM189.86 348.15h2.06v3.7h-2.06zM193.97 348.15h2.05v3.7h-2.05zM200.13 348.15h12.33v3.7h-12.33zM216.58 348.15h2.06v3.7h-2.06zM220.69 348.15h2.06v3.7h-2.06zM226.85 348.15h2.05v3.7h-2.05zM233.02 348.15h4.11v3.7h-4.11zM243.29 348.15h2.05v3.7h-2.05zM247.4 348.15h2.06v3.7h-2.06zM257.68 348.15h4.11v3.7h-4.11zM284.39 348.15h4.11v3.7h-4.11z"/>
<path class="b" d="M83 348.15h4.11v3.7h-4.11zM91.22 348.15h2.06v3.7h-2.06zM95.33 348.15h2.06v3.7h-2.06zM103.55 348.15h14.39v3.7h-14.39zM119.99 348.15h4.11v3.7h-4.11zM126.16 348.15h8.22v3.7h-8.22zM136.43 348.15h6.16v3.7h-6.16zM144.65 348.15h6.16v3.7h-6.16zM154.93 348.15h12.33v3.7h-12.33zM169.31 348.15h14.38v3.7h-14.38zM187.81 348.15h2.06v3.7h-2.06zM191.92 348.15h2.06v3.7h-2.06zM196.03 348.15h4.11v3.7h-4.11zM212.47 348.15h4.11v3.7h-4.11zM218.63 348.15h2.05v3.7h-2.05zM222.74 348.15h4.11v3.7h-4.11zM228.91 348.15h4.11v3.7h-4.11zM237.12 348.15h6.17v3.7h-6.17zM245.34 348.15h2.06v3.7h-2.06zM249.46 348.15h8.22v3.7h-8.22zM261.79 348.15h22.6v3.7h-22.6z"/>
<path class="s" d="M84.78 350H288.1" stroke-dasharray="0.55 1.505"/>
<path class="e" d="M83 348.15H288.5M83 351.85H288.5"/>
<text x="293" y="351.9" font-size="5.3" fill="#404040"><tspan class="tk">4,</tspan><tspan class="tg">12,</tspan><tspan class="tk">17</tspan></text>
<path class="o" d="M83 353.35h20.55v3.7h-20.55zM117.94 353.35h2.06v3.7h-2.06zM124.1 353.35h2.06v3.7h-2.06zM134.38 353.35h2.06v3.7h-2.06zM142.59 353.35h2.06v3.7h-2.06zM150.81 353.35h4.11v3.7h-4.11zM167.25 353.35h2.06v3.7h-2.06zM183.69 353.35h4.11v3.7h-4.11zM189.86 353.35h2.06v3.7h-2.06zM193.97 353.35h2.05v3.7h-2.05zM200.13 353.35h22.61v3.7h-22.61zM233.02 353.35h2.06v3.7h-2.06zM239.18 353.35h2.06v3.7h-2.06zM245.34 353.35h2.06v3.7h-2.06zM251.51 353.35h10.28v3.7h-10.28zM284.39 353.35h4.11v3.7h-4.11z"/>
<path class="b" d="M103.55 353.35h14.39v3.7h-14.39zM119.99 353.35h4.11v3.7h-4.11zM126.16 353.35h8.22v3.7h-8.22zM136.43 353.35h6.16v3.7h-6.16zM144.65 353.35h6.16v3.7h-6.16zM154.93 353.35h12.33v3.7h-12.33zM169.31 353.35h14.38v3.7h-14.38zM187.81 353.35h2.06v3.7h-2.06zM191.92 353.35h2.06v3.7h-2.06zM196.03 353.35h4.11v3.7h-4.11zM222.74 353.35h10.28v3.7h-10.28zM235.07 353.35h4.11v3.7h-4.11zM241.24 353.35h4.11v3.7h-4.11zM247.4 353.35h4.11v3.7h-4.11zM261.79 353.35h22.6v3.7h-22.6z"/>
<path class="s" d="M84.78 355.2H288.1" stroke-dasharray="0.55 1.505"/>
<path class="e" d="M83 353.35H288.5M83 357.05H288.5"/>
<text x="293" y="357.1" font-size="5.3" fill="#404040"><tspan class="tk">21</tspan></text>
<path class="o" d="M87.11 358.55h4.11v3.7h-4.11zM93.28 358.55h2.05v3.7h-2.05zM97.39 358.55h6.16v3.7h-6.16zM117.94 358.55h2.06v3.7h-2.06zM124.1 358.55h2.06v3.7h-2.06zM134.38 358.55h2.06v3.7h-2.06zM150.81 358.55h4.11v3.7h-4.11zM167.25 358.55h2.06v3.7h-2.06zM187.81 358.55h6.17v3.7h-6.17zM196.03 358.55h2.06v3.7h-2.06zM202.19 358.55h2.06v3.7h-2.06zM210.41 358.55h12.33v3.7h-12.33zM233.02 358.55h2.06v3.7h-2.06zM239.18 358.55h2.06v3.7h-2.06zM245.34 358.55h2.06v3.7h-2.06zM251.51 358.55h32.88v3.7h-32.88zM286.45 358.55h2.05v3.7h-2.05z"/>
<path class="b" d="M83 358.55h4.11v3.7h-4.11zM91.22 358.55h2.06v3.7h-2.06zM95.33 358.55h2.06v3.7h-2.06zM103.55 358.55h14.39v3.7h-14.39zM119.99 358.55h4.11v3.7h-4.11zM126.16 358.55h8.22v3.7h-8.22zM136.43 358.55h14.38v3.7h-14.38zM154.93 358.55h12.33v3.7h-12.33zM169.31 358.55h18.5v3.7h-18.5zM193.97 358.55h2.05v3.7h-2.05zM198.08 358.55h4.11v3.7h-4.11zM204.25 358.55h6.17v3.7h-6.17zM222.74 358.55h10.28v3.7h-10.28zM235.07 358.55h4.11v3.7h-4.11zM241.24 358.55h4.11v3.7h-4.11zM247.4 358.55h4.11v3.7h-4.11zM284.39 358.55h2.06v3.7h-2.06z"/>
<path class="s" d="M84.78 360.4H288.1" stroke-dasharray="0.55 1.505"/>
<path class="e" d="M83 358.55H288.5M83 362.25H288.5"/>
<text x="293" y="362.3" font-size="5.3" fill="#404040"><tspan class="tk">1,</tspan><tspan class="tg">6,24</tspan></text>
<path class="o" d="M87.11 363.75h4.11v3.7h-4.11zM93.28 363.75h2.05v3.7h-2.05zM97.39 363.75h6.16v3.7h-6.16zM117.94 363.75h2.06v3.7h-2.06zM124.1 363.75h2.06v3.7h-2.06zM134.38 363.75h2.06v3.7h-2.06zM150.81 363.75h4.11v3.7h-4.11zM167.25 363.75h2.06v3.7h-2.06zM187.81 363.75h6.17v3.7h-6.17zM196.03 363.75h2.06v3.7h-2.06zM202.19 363.75h2.06v3.7h-2.06zM210.41 363.75h2.05v3.7h-2.05zM216.58 363.75h2.06v3.7h-2.06zM220.69 363.75h2.06v3.7h-2.06zM226.85 363.75h2.05v3.7h-2.05zM233.02 363.75h4.11v3.7h-4.11zM243.29 363.75h2.05v3.7h-2.05zM247.4 363.75h2.06v3.7h-2.06zM257.68 363.75h4.11v3.7h-4.11zM284.39 363.75h4.11v3.7h-4.11z"/>
<path class="b" d="M83 363.75h4.11v3.7h-4.11zM91.22 363.75h2.06v3.7h-2.06zM95.33 363.75h2.06v3.7h-2.06zM103.55 363.75h14.39v3.7h-14.39zM119.99 363.75h4.11v3.7h-4.11zM126.16 363.75h8.22v3.7h-8.22zM136.43 363.75h14.38v3.7h-14.38zM154.93 363.75h12.33v3.7h-12.33zM169.31 363.75h18.5v3.7h-18.5zM193.97 363.75h2.05v3.7h-2.05zM198.08 363.75h4.11v3.7h-4.11zM204.25 363.75h6.17v3.7h-6.17zM212.47 363.75h4.11v3.7h-4.11zM218.63 363.75h2.05v3.7h-2.05zM222.74 363.75h4.11v3.7h-4.11zM228.91 363.75h4.11v3.7h-4.11zM237.12 363.75h6.17v3.7h-6.17zM245.34 363.75h2.06v3.7h-2.06zM249.46 363.75h8.22v3.7h-8.22zM261.79 363.75h22.6v3.7h-22.6z"/>
<path class="s" d="M84.78 365.6H288.1" stroke-dasharray="0.55 1.505"/>
<path class="e" d="M83 363.75H288.5M83 367.45H288.5"/>
<text x="293" y="367.5" font-size="5.3" fill="#404040"><tspan class="tk">3</tspan></text>
<path class="o" d="M87.11 368.95h4.11v3.7h-4.11zM93.28 368.95h2.05v3.7h-2.05zM97.39 368.95h6.16v3.7h-6.16zM117.94 368.95h2.06v3.7h-2.06zM124.1 368.95h2.06v3.7h-2.06zM134.38 368.95h2.06v3.7h-2.06zM142.59 368.95h2.06v3.7h-2.06zM150.81 368.95h4.11v3.7h-4.11zM167.25 368.95h2.06v3.7h-2.06zM187.81 368.95h6.17v3.7h-6.17zM196.03 368.95h2.06v3.7h-2.06zM202.19 368.95h2.06v3.7h-2.06zM210.41 368.95h43.16v3.7h-43.16zM280.28 368.95h6.17v3.7h-6.17z"/>
<path class="b" d="M83 368.95h4.11v3.7h-4.11zM91.22 368.95h2.06v3.7h-2.06zM95.33 368.95h2.06v3.7h-2.06zM103.55 368.95h14.39v3.7h-14.39zM119.99 368.95h4.11v3.7h-4.11zM126.16 368.95h8.22v3.7h-8.22zM136.43 368.95h6.16v3.7h-6.16zM144.65 368.95h6.16v3.7h-6.16zM154.93 368.95h12.33v3.7h-12.33zM169.31 368.95h18.5v3.7h-18.5zM193.97 368.95h2.05v3.7h-2.05zM198.08 368.95h4.11v3.7h-4.11zM204.25 368.95h6.17v3.7h-6.17zM253.57 368.95h26.72v3.7h-26.72zM286.45 368.95h2.05v3.7h-2.05z"/>
<path class="s" d="M84.78 370.8H288.1" stroke-dasharray="0.55 1.505"/>
<path class="e" d="M83 368.95H288.5M83 372.65H288.5"/>
<text x="293" y="372.7" font-size="5.3" fill="#404040"><tspan class="tg">9</tspan></text>
<path class="o" d="M87.11 374.15h4.11v3.7h-4.11zM93.28 374.15h2.05v3.7h-2.05zM97.39 374.15h6.16v3.7h-6.16zM117.94 374.15h2.06v3.7h-2.06zM124.1 374.15h2.06v3.7h-2.06zM134.38 374.15h2.06v3.7h-2.06zM142.59 374.15h2.06v3.7h-2.06zM150.81 374.15h4.11v3.7h-4.11zM167.25 374.15h2.06v3.7h-2.06zM187.81 374.15h6.17v3.7h-6.17zM196.03 374.15h2.06v3.7h-2.06zM202.19 374.15h2.06v3.7h-2.06zM210.41 374.15h12.33v3.7h-12.33zM233.02 374.15h2.06v3.7h-2.06zM239.18 374.15h2.06v3.7h-2.06zM245.34 374.15h2.06v3.7h-2.06zM251.51 374.15h32.88v3.7h-32.88zM286.45 374.15h2.05v3.7h-2.05z"/>
<path class="b" d="M83 374.15h4.11v3.7h-4.11zM91.22 374.15h2.06v3.7h-2.06zM95.33 374.15h2.06v3.7h-2.06zM103.55 374.15h14.39v3.7h-14.39zM119.99 374.15h4.11v3.7h-4.11zM126.16 374.15h8.22v3.7h-8.22zM136.43 374.15h6.16v3.7h-6.16zM144.65 374.15h6.16v3.7h-6.16zM154.93 374.15h12.33v3.7h-12.33zM169.31 374.15h18.5v3.7h-18.5zM193.97 374.15h2.05v3.7h-2.05zM198.08 374.15h4.11v3.7h-4.11zM204.25 374.15h6.17v3.7h-6.17zM222.74 374.15h10.28v3.7h-10.28zM235.07 374.15h4.11v3.7h-4.11zM241.24 374.15h4.11v3.7h-4.11zM247.4 374.15h4.11v3.7h-4.11zM284.39 374.15h2.06v3.7h-2.06z"/>
<path class="s" d="M84.78 376H288.1" stroke-dasharray="0.55 1.505"/>
<path class="e" d="M83 374.15H288.5M83 377.85H288.5"/>
<text x="293" y="377.9" font-size="5.3" fill="#404040"><tspan class="tg">10,</tspan><tspan class="tk">14</tspan></text>
<path class="o" d="M87.11 379.35h4.11v3.7h-4.11zM93.28 379.35h2.05v3.7h-2.05zM97.39 379.35h6.16v3.7h-6.16zM117.94 379.35h2.06v3.7h-2.06zM124.1 379.35h2.06v3.7h-2.06zM134.38 379.35h2.06v3.7h-2.06zM142.59 379.35h2.06v3.7h-2.06zM150.81 379.35h4.11v3.7h-4.11zM167.25 379.35h2.06v3.7h-2.06zM187.81 379.35h6.17v3.7h-6.17zM196.03 379.35h2.06v3.7h-2.06zM202.19 379.35h2.06v3.7h-2.06zM210.41 379.35h12.33v3.7h-12.33zM233.02 379.35h2.06v3.7h-2.06zM239.18 379.35h2.06v3.7h-2.06zM245.34 379.35h2.06v3.7h-2.06zM251.51 379.35h10.28v3.7h-10.28zM284.39 379.35h4.11v3.7h-4.11z"/>
<path class="b" d="M83 379.35h4.11v3.7h-4.11zM91.22 379.35h2.06v3.7h-2.06zM95.33 379.35h2.06v3.7h-2.06zM103.55 379.35h14.39v3.7h-14.39zM119.99 379.35h4.11v3.7h-4.11zM126.16 379.35h8.22v3.7h-8.22zM136.43 379.35h6.16v3.7h-6.16zM144.65 379.35h6.16v3.7h-6.16zM154.93 379.35h12.33v3.7h-12.33zM169.31 379.35h18.5v3.7h-18.5zM193.97 379.35h2.05v3.7h-2.05zM198.08 379.35h4.11v3.7h-4.11zM204.25 379.35h6.17v3.7h-6.17zM222.74 379.35h10.28v3.7h-10.28zM235.07 379.35h4.11v3.7h-4.11zM241.24 379.35h4.11v3.7h-4.11zM247.4 379.35h4.11v3.7h-4.11zM261.79 379.35h22.6v3.7h-22.6z"/>
<path class="s" d="M84.78 381.2H288.1" stroke-dasharray="0.55 1.505"/>
<path class="e" d="M83 379.35H288.5M83 383.05H288.5"/>
<text x="293" y="383.1" font-size="5.3" fill="#404040"><tspan class="tg">23</tspan></text>
<path class="o" d="M83 384.55h2.06v3.7h-2.06zM89.17 384.55h2.05v3.7h-2.05zM93.28 384.55h2.05v3.7h-2.05zM97.39 384.55h6.16v3.7h-6.16zM117.94 384.55h2.06v3.7h-2.06zM124.1 384.55h2.06v3.7h-2.06zM134.38 384.55h2.06v3.7h-2.06zM142.59 384.55h2.06v3.7h-2.06zM152.87 384.55h2.06v3.7h-2.06zM167.25 384.55h2.06v3.7h-2.06zM187.81 384.55h6.17v3.7h-6.17zM196.03 384.55h2.06v3.7h-2.06zM202.19 384.55h2.06v3.7h-2.06zM210.41 384.55h12.33v3.7h-12.33zM233.02 384.55h2.06v3.7h-2.06zM239.18 384.55h2.06v3.7h-2.06zM245.34 384.55h2.06v3.7h-2.06zM251.51 384.55h32.88v3.7h-32.88zM286.45 384.55h2.05v3.7h-2.05z"/>
<path class="b" d="M85.06 384.55h4.11v3.7h-4.11zM91.22 384.55h2.06v3.7h-2.06zM95.33 384.55h2.06v3.7h-2.06zM103.55 384.55h14.39v3.7h-14.39zM119.99 384.55h4.11v3.7h-4.11zM126.16 384.55h8.22v3.7h-8.22zM136.43 384.55h6.16v3.7h-6.16zM144.65 384.55h8.22v3.7h-8.22zM154.93 384.55h12.33v3.7h-12.33zM169.31 384.55h18.5v3.7h-18.5zM193.97 384.55h2.05v3.7h-2.05zM198.08 384.55h4.11v3.7h-4.11zM204.25 384.55h6.17v3.7h-6.17zM222.74 384.55h10.28v3.7h-10.28zM235.07 384.55h4.11v3.7h-4.11zM241.24 384.55h4.11v3.7h-4.11zM247.4 384.55h4.11v3.7h-4.11zM284.39 384.55h2.06v3.7h-2.06z"/>
<path class="s" d="M84.78 386.4H288.1" stroke-dasharray="0.55 1.505"/>
<path class="e" d="M83 384.55H288.5M83 388.25H288.5"/>
<text x="293" y="388.3" font-size="5.3" fill="#404040"><tspan class="tg">2,</tspan><tspan class="tk">16,20,22</tspan></text>
<path class="o" d="M83 389.75h2.06v3.7h-2.06zM87.11 389.75h2.06v3.7h-2.06zM97.39 389.75h6.16v3.7h-6.16zM117.94 389.75h2.06v3.7h-2.06zM124.1 389.75h2.06v3.7h-2.06zM134.38 389.75h2.06v3.7h-2.06zM142.59 389.75h2.06v3.7h-2.06zM150.81 389.75h4.11v3.7h-4.11zM167.25 389.75h2.06v3.7h-2.06zM187.81 389.75h6.17v3.7h-6.17zM196.03 389.75h2.06v3.7h-2.06zM202.19 389.75h2.06v3.7h-2.06zM210.41 389.75h12.33v3.7h-12.33zM233.02 389.75h2.06v3.7h-2.06zM243.29 389.75h2.05v3.7h-2.05zM247.4 389.75h2.06v3.7h-2.06zM257.68 389.75h4.11v3.7h-4.11zM284.39 389.75h4.11v3.7h-4.11z"/>
<path class="b" d="M85.06 389.75h2.05v3.7h-2.05zM89.17 389.75h8.22v3.7h-8.22zM103.55 389.75h14.39v3.7h-14.39zM119.99 389.75h4.11v3.7h-4.11zM126.16 389.75h8.22v3.7h-8.22zM136.43 389.75h6.16v3.7h-6.16zM144.65 389.75h6.16v3.7h-6.16zM154.93 389.75h12.33v3.7h-12.33zM169.31 389.75h18.5v3.7h-18.5zM193.97 389.75h2.05v3.7h-2.05zM198.08 389.75h4.11v3.7h-4.11zM204.25 389.75h6.17v3.7h-6.17zM222.74 389.75h10.28v3.7h-10.28zM235.07 389.75h8.22v3.7h-8.22zM245.34 389.75h2.06v3.7h-2.06zM249.46 389.75h8.22v3.7h-8.22zM261.79 389.75h22.6v3.7h-22.6z"/>
<path class="s" d="M84.78 391.6H288.1" stroke-dasharray="0.55 1.505"/>
<path class="e" d="M83 389.75H288.5M83 393.45H288.5"/>
<text x="293" y="393.5" font-size="5.3" fill="#404040"><tspan class="tk">15</tspan></text>
<path class="o" d="M83 394.95h2.06v3.7h-2.06zM89.17 394.95h2.05v3.7h-2.05zM93.28 394.95h2.05v3.7h-2.05zM105.61 394.95h2.05v3.7h-2.05zM109.72 394.95h2.06v3.7h-2.06zM113.83 394.95h2.05v3.7h-2.05zM119.99 394.95h4.11v3.7h-4.11zM134.38 394.95h2.06v3.7h-2.06zM142.59 394.95h2.06v3.7h-2.06zM150.81 394.95h4.11v3.7h-4.11zM167.25 394.95h2.06v3.7h-2.06zM187.81 394.95h6.17v3.7h-6.17zM196.03 394.95h2.06v3.7h-2.06zM202.19 394.95h2.06v3.7h-2.06zM210.41 394.95h2.05v3.7h-2.05zM216.58 394.95h2.06v3.7h-2.06zM220.69 394.95h2.06v3.7h-2.06zM226.85 394.95h2.05v3.7h-2.05zM233.02 394.95h4.11v3.7h-4.11zM243.29 394.95h2.05v3.7h-2.05zM247.4 394.95h2.06v3.7h-2.06zM257.68 394.95h4.11v3.7h-4.11zM284.39 394.95h4.11v3.7h-4.11z"/>
<path class="b" d="M85.06 394.95h4.11v3.7h-4.11zM91.22 394.95h2.06v3.7h-2.06zM95.33 394.95h10.28v3.7h-10.28zM107.66 394.95h2.06v3.7h-2.06zM111.77 394.95h2.05v3.7h-2.05zM115.88 394.95h4.11v3.7h-4.11zM124.1 394.95h10.28v3.7h-10.28zM136.43 394.95h6.16v3.7h-6.16zM144.65 394.95h6.16v3.7h-6.16zM154.93 394.95h12.33v3.7h-12.33zM169.31 394.95h18.5v3.7h-18.5zM193.97 394.95h2.05v3.7h-2.05zM198.08 394.95h4.11v3.7h-4.11zM204.25 394.95h6.17v3.7h-6.17zM212.47 394.95h4.11v3.7h-4.11zM218.63 394.95h2.05v3.7h-2.05zM222.74 394.95h4.11v3.7h-4.11zM228.91 394.95h4.11v3.7h-4.11zM237.12 394.95h6.17v3.7h-6.17zM245.34 394.95h2.06v3.7h-2.06zM249.46 394.95h8.22v3.7h-8.22zM261.79 394.95h22.6v3.7h-22.6z"/>
<path class="s" d="M84.78 396.8H288.1" stroke-dasharray="0.55 1.505"/>
<path class="e" d="M83 394.95H288.5M83 398.65H288.5"/>
<text x="293" y="398.7" font-size="5.3" fill="#404040"><tspan class="tk">11</tspan></text>
<path class="o" d="M83 400.15h2.06v3.7h-2.06zM87.11 400.15h2.06v3.7h-2.06zM105.61 400.15h2.05v3.7h-2.05zM109.72 400.15h8.22v3.7h-8.22zM119.99 400.15h4.11v3.7h-4.11zM134.38 400.15h2.06v3.7h-2.06zM142.59 400.15h2.06v3.7h-2.06zM150.81 400.15h2.06v3.7h-2.06zM167.25 400.15h2.06v3.7h-2.06zM187.81 400.15h6.17v3.7h-6.17zM196.03 400.15h2.06v3.7h-2.06zM202.19 400.15h2.06v3.7h-2.06zM210.41 400.15h2.05v3.7h-2.05zM216.58 400.15h2.06v3.7h-2.06zM220.69 400.15h2.06v3.7h-2.06zM226.85 400.15h2.05v3.7h-2.05zM233.02 400.15h4.11v3.7h-4.11zM243.29 400.15h2.05v3.7h-2.05zM247.4 400.15h2.06v3.7h-2.06zM257.68 400.15h4.11v3.7h-4.11zM284.39 400.15h4.11v3.7h-4.11z"/>
<path class="b" d="M85.06 400.15h2.05v3.7h-2.05zM89.17 400.15h16.44v3.7h-16.44zM107.66 400.15h2.06v3.7h-2.06zM117.94 400.15h2.06v3.7h-2.06zM124.1 400.15h10.28v3.7h-10.28zM136.43 400.15h6.16v3.7h-6.16zM144.65 400.15h6.16v3.7h-6.16zM152.87 400.15h14.38v3.7h-14.38zM169.31 400.15h18.5v3.7h-18.5zM193.97 400.15h2.05v3.7h-2.05zM198.08 400.15h4.11v3.7h-4.11zM204.25 400.15h6.17v3.7h-6.17zM212.47 400.15h4.11v3.7h-4.11zM218.63 400.15h2.05v3.7h-2.05zM222.74 400.15h4.11v3.7h-4.11zM228.91 400.15h4.11v3.7h-4.11zM237.12 400.15h6.17v3.7h-6.17zM245.34 400.15h2.06v3.7h-2.06zM249.46 400.15h8.22v3.7h-8.22zM261.79 400.15h22.6v3.7h-22.6z"/>
<path class="s" d="M84.78 402H288.1" stroke-dasharray="0.55 1.505"/>
<path class="e" d="M83 400.15H288.5M83 403.85H288.5"/>
<text x="293" y="403.9" font-size="5.3" fill="#404040"><tspan class="tg">5</tspan></text>
<path class="o" d="M83 405.35h2.06v3.7h-2.06zM87.11 405.35h2.06v3.7h-2.06zM105.61 405.35h2.05v3.7h-2.05zM109.72 405.35h8.22v3.7h-8.22zM119.99 405.35h4.11v3.7h-4.11zM134.38 405.35h2.06v3.7h-2.06zM142.59 405.35h2.06v3.7h-2.06zM150.81 405.35h4.11v3.7h-4.11zM167.25 405.35h2.06v3.7h-2.06zM187.81 405.35h6.17v3.7h-6.17zM196.03 405.35h2.06v3.7h-2.06zM202.19 405.35h2.06v3.7h-2.06zM210.41 405.35h2.05v3.7h-2.05zM216.58 405.35h2.06v3.7h-2.06zM220.69 405.35h2.06v3.7h-2.06zM226.85 405.35h2.05v3.7h-2.05zM233.02 405.35h4.11v3.7h-4.11zM243.29 405.35h2.05v3.7h-2.05zM247.4 405.35h2.06v3.7h-2.06zM257.68 405.35h4.11v3.7h-4.11zM284.39 405.35h4.11v3.7h-4.11z"/>
<path class="b" d="M85.06 405.35h2.05v3.7h-2.05zM89.17 405.35h16.44v3.7h-16.44zM107.66 405.35h2.06v3.7h-2.06zM117.94 405.35h2.06v3.7h-2.06zM124.1 405.35h10.28v3.7h-10.28zM136.43 405.35h6.16v3.7h-6.16zM144.65 405.35h6.16v3.7h-6.16zM154.93 405.35h12.33v3.7h-12.33zM169.31 405.35h18.5v3.7h-18.5zM193.97 405.35h2.05v3.7h-2.05zM198.08 405.35h4.11v3.7h-4.11zM204.25 405.35h6.17v3.7h-6.17zM212.47 405.35h4.11v3.7h-4.11zM218.63 405.35h2.05v3.7h-2.05zM222.74 405.35h4.11v3.7h-4.11zM228.91 405.35h4.11v3.7h-4.11zM237.12 405.35h6.17v3.7h-6.17zM245.34 405.35h2.06v3.7h-2.06zM249.46 405.35h8.22v3.7h-8.22zM261.79 405.35h22.6v3.7h-22.6z"/>
<path class="s" d="M84.78 407.2H288.1" stroke-dasharray="0.55 1.505"/>
<path class="e" d="M83 405.35H288.5M83 409.05H288.5"/>
<text x="293" y="409.1" font-size="5.3" fill="#404040"><tspan class="tk">13</tspan></text>
<path class="o" d="M83 410.55h2.06v3.7h-2.06zM87.11 410.55h2.06v3.7h-2.06zM105.61 410.55h2.05v3.7h-2.05zM109.72 410.55h8.22v3.7h-8.22zM119.99 410.55h4.11v3.7h-4.11zM130.26 410.55h2.06v3.7h-2.06zM134.38 410.55h2.06v3.7h-2.06zM142.59 410.55h2.06v3.7h-2.06zM150.81 410.55h4.11v3.7h-4.11zM167.25 410.55h2.06v3.7h-2.06zM187.81 410.55h6.17v3.7h-6.17zM196.03 410.55h2.06v3.7h-2.06zM202.19 410.55h2.06v3.7h-2.06zM210.41 410.55h2.05v3.7h-2.05zM216.58 410.55h2.06v3.7h-2.06zM220.69 410.55h2.06v3.7h-2.06zM226.85 410.55h2.05v3.7h-2.05zM233.02 410.55h4.11v3.7h-4.11zM243.29 410.55h2.05v3.7h-2.05zM247.4 410.55h2.06v3.7h-2.06zM257.68 410.55h30.82v3.7h-30.82z"/>
<path class="b" d="M85.06 410.55h2.05v3.7h-2.05zM89.17 410.55h16.44v3.7h-16.44zM107.66 410.55h2.06v3.7h-2.06zM117.94 410.55h2.06v3.7h-2.06zM124.1 410.55h6.16v3.7h-6.16zM132.32 410.55h2.06v3.7h-2.06zM136.43 410.55h6.16v3.7h-6.16zM144.65 410.55h6.16v3.7h-6.16zM154.93 410.55h12.33v3.7h-12.33zM169.31 410.55h18.5v3.7h-18.5zM193.97 410.55h2.05v3.7h-2.05zM198.08 410.55h4.11v3.7h-4.11zM204.25 410.55h6.17v3.7h-6.17zM212.47 410.55h4.11v3.7h-4.11zM218.63 410.55h2.05v3.7h-2.05zM222.74 410.55h4.11v3.7h-4.11zM228.91 410.55h4.11v3.7h-4.11zM237.12 410.55h6.17v3.7h-6.17zM245.34 410.55h2.06v3.7h-2.06zM249.46 410.55h8.22v3.7h-8.22z"/>
<path class="s" d="M84.78 412.4H288.1" stroke-dasharray="0.55 1.505"/>
<path class="e" d="M83 410.55H288.5M83 414.25H288.5"/>
<text x="293" y="414.3" font-size="5.3" fill="#404040"><tspan class="tk">7</tspan></text>
<text x="81.3" y="247.9" font-size="5.8" fill="#f05a3a" text-anchor="end" textLength="14.4" lengthAdjust="spacingAndGlyphs">active</text>
<text x="81.3" y="253.1" font-size="5.8" fill="#404040" text-anchor="end" textLength="28.4" lengthAdjust="spacingAndGlyphs">haplotype α</text>
<text x="81.3" y="268.7" font-size="5.8" fill="#f05a3a" text-anchor="end" textLength="14.4" lengthAdjust="spacingAndGlyphs">active</text>
<text x="81.3" y="325.9" font-size="5.8" fill="#f05a3a" text-anchor="end" textLength="14.4" lengthAdjust="spacingAndGlyphs">active</text>
<path class="o" d="M87.11 426.15h4.11v3.7h-4.11zM93.28 426.15h2.05v3.7h-2.05zM99.44 426.15h4.11v3.7h-4.11zM111.77 426.15h10.27v3.7h-10.27zM124.1 426.15h4.11v3.7h-4.11zM130.26 426.15h2.06v3.7h-2.06zM134.38 426.15h2.06v3.7h-2.06zM142.59 426.15h6.16v3.7h-6.16zM150.81 426.15h2.06v3.7h-2.06zM154.93 426.15h10.27v3.7h-10.27zM171.37 426.15h2.06v3.7h-2.06zM175.48 426.15h6.16v3.7h-6.16zM185.75 426.15h12.33v3.7h-12.33zM200.13 426.15h4.11v3.7h-4.11zM208.36 426.15h4.11v3.7h-4.11zM214.52 426.15h6.16v3.7h-6.16zM224.8 426.15h12.33v3.7h-12.33zM239.18 426.15h2.06v3.7h-2.06zM243.29 426.15h2.05v3.7h-2.05zM247.4 426.15h2.06v3.7h-2.06zM251.51 426.15h2.06v3.7h-2.06zM255.62 426.15h2.06v3.7h-2.06zM263.84 426.15h4.11v3.7h-4.11zM274.12 426.15h2.06v3.7h-2.06zM278.23 426.15h10.27v3.7h-10.27z"/>
<path class="b" d="M83 426.15h4.11v3.7h-4.11zM91.22 426.15h2.06v3.7h-2.06zM95.33 426.15h4.11v3.7h-4.11zM103.55 426.15h8.22v3.7h-8.22zM122.05 426.15h2.05v3.7h-2.05zM128.21 426.15h2.05v3.7h-2.05zM132.32 426.15h2.06v3.7h-2.06zM136.43 426.15h6.16v3.7h-6.16zM152.87 426.15h2.06v3.7h-2.06zM165.2 426.15h2.06v3.7h-2.06zM169.31 426.15h2.06v3.7h-2.06zM173.42 426.15h2.06v3.7h-2.06zM181.64 426.15h4.11v3.7h-4.11zM198.08 426.15h2.05v3.7h-2.05zM206.3 426.15h2.06v3.7h-2.06zM212.47 426.15h2.06v3.7h-2.06zM220.69 426.15h4.11v3.7h-4.11zM237.12 426.15h2.06v3.7h-2.06zM241.24 426.15h2.06v3.7h-2.06zM245.34 426.15h2.06v3.7h-2.06zM249.46 426.15h2.06v3.7h-2.06zM253.57 426.15h2.05v3.7h-2.05zM257.68 426.15h6.17v3.7h-6.17zM270 426.15h4.11v3.7h-4.11zM276.17 426.15h2.06v3.7h-2.06z"/>
<path class="s" d="M84.78 428H288.1" stroke-dasharray="0.55 1.505"/>
<path class="e" d="M83 426.15H288.5M83 429.85H288.5"/>
<text x="293.2" y="430" font-size="6.2" fill="#2a2a2a" stroke="#2a2a2a">ancestral</text>
</g>
</svg>
</body></html>
